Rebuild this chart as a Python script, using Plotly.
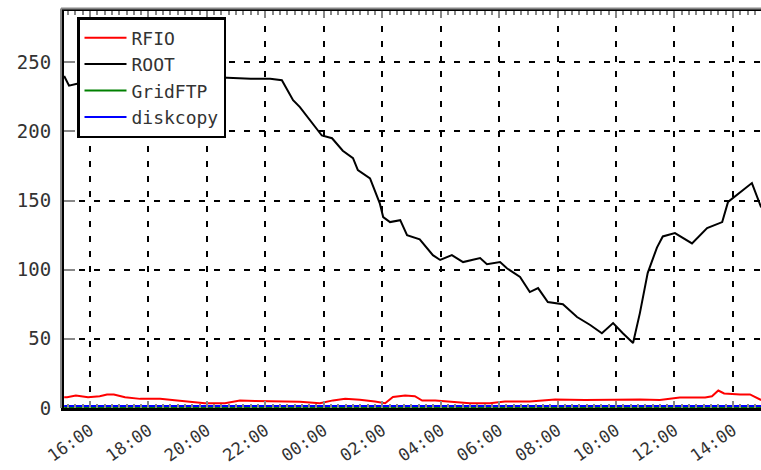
import plotly.graph_objects as go

# ---- data ----
root_time = ["2010-03-01 15:07", "2010-03-01 15:17", "2010-03-01 15:40", "2010-03-01 16:30",
             "2010-03-01 17:30", "2010-03-01 18:30", "2010-03-01 19:30", "2010-03-01 20:30",
             "2010-03-01 21:30", "2010-03-01 22:10", "2010-03-01 22:34", "2010-03-01 22:57",
             "2010-03-01 23:11", "2010-03-01 23:46", "2010-03-01 23:56", "2010-03-02 00:17",
             "2010-03-02 00:39", "2010-03-02 01:00", "2010-03-02 01:10", "2010-03-02 01:35",
             "2010-03-02 01:45", "2010-03-02 01:55", "2010-03-02 02:02", "2010-03-02 02:16",
             "2010-03-02 02:37", "2010-03-02 02:51", "2010-03-02 03:17", "2010-03-02 03:32",
             "2010-03-02 03:44", "2010-03-02 03:59", "2010-03-02 04:23", "2010-03-02 04:46",
             "2010-03-02 05:21", "2010-03-02 05:35", "2010-03-02 06:02", "2010-03-02 06:16",
             "2010-03-02 06:43", "2010-03-02 07:03", "2010-03-02 07:20", "2010-03-02 07:40",
             "2010-03-02 08:11", "2010-03-02 08:40", "2010-03-02 09:07", "2010-03-02 09:31",
             "2010-03-02 09:54", "2010-03-02 10:14", "2010-03-02 10:35", "2010-03-02 10:49",
             "2010-03-02 11:05", "2010-03-02 11:24", "2010-03-02 11:36", "2010-03-02 12:01",
             "2010-03-02 12:36", "2010-03-02 13:07", "2010-03-02 13:38", "2010-03-02 13:50",
             "2010-03-02 14:00", "2010-03-02 14:39", "2010-03-02 14:58"]
root_vals = [240, 233, 235, 237,
             236, 238, 237, 239,
             238, 238, 237, 222.5,
             217.5, 201, 197, 195,
             186, 180.6, 172, 166,
             157.5, 148, 138, 134.4,
             135.8, 125, 122, 116,
             110.5, 107, 110.5, 105.5,
             108.4, 104, 105.5, 101,
             94.7, 83.8, 86.7, 76.6,
             75, 65.8, 60, 54,
             61.4, 54, 47, 68.6,
             97.5, 116, 124, 126.4,
             119, 130, 134.4, 149,
             151.7, 162.6, 145]

small_time = ["2010-03-01 15:07", "2010-03-01 15:13", "2010-03-01 15:31", "2010-03-01 15:56",
              "2010-03-01 16:20", "2010-03-01 16:35", "2010-03-01 16:49", "2010-03-01 17:12",
              "2010-03-01 17:43", "2010-03-01 18:24", "2010-03-01 18:59", "2010-03-01 19:25",
              "2010-03-01 19:56", "2010-03-01 20:37", "2010-03-01 21:08", "2010-03-01 21:39",
              "2010-03-01 22:20", "2010-03-01 23:11", "2010-03-01 23:52", "2010-03-02 00:19",
              "2010-03-02 00:44", "2010-03-02 01:14", "2010-03-02 01:45", "2010-03-02 02:06",
              "2010-03-02 02:22", "2010-03-02 02:47", "2010-03-02 03:07", "2010-03-02 03:22",
              "2010-03-02 03:49", "2010-03-02 04:19", "2010-03-02 05:00", "2010-03-02 05:41",
              "2010-03-02 06:12", "2010-03-02 07:03", "2010-03-02 07:55", "2010-03-02 08:56",
              "2010-03-02 09:48", "2010-03-02 10:49", "2010-03-02 11:30", "2010-03-02 12:11",
              "2010-03-02 13:03", "2010-03-02 13:17", "2010-03-02 13:30", "2010-03-02 13:42",
              "2010-03-02 14:15", "2010-03-02 14:35", "2010-03-02 14:58"]
rfio_vals = [7.8, 7.8, 9.0, 7.8,
             8.5, 9.8, 9.8, 7.8,
             6.6, 6.6, 5.5, 4.7,
             3.5, 3.5, 5.4, 5.0,
             4.7, 4.5, 3.5, 5.5,
             6.6, 6.0, 4.7, 3.5,
             8.0, 9.0, 8.5, 5.4,
             5.4, 4.7, 3.5, 3.5,
             4.7, 4.7, 6.1, 5.8,
             6.1, 6.1, 5.8, 7.6,
             7.6, 8.5, 12.6, 10.5,
             9.8, 9.8, 5.8]
gridftp_vals = [0.5] * len(small_time)
diskcopy_vals = [1.5] * len(small_time)

x_start = "2010-03-01 15:06:40"
x_end = "2010-03-02 14:57:40"
y_max = 287
y_tick_step = 50

mono = "DejaVu Sans Mono"
txt = "#333333"

fig = go.Figure()
fig.add_trace(go.Scatter(x=small_time, y=rfio_vals, mode="lines", name="RFIO",
                         line=dict(color="#ff0000", width=2)))
fig.add_trace(go.Scatter(x=root_time, y=root_vals, mode="lines", name="ROOT",
                         line=dict(color="#000000", width=2)))
fig.add_trace(go.Scatter(x=small_time, y=gridftp_vals, mode="lines", name="GridFTP",
                         line=dict(color="#008000", width=2)))
fig.add_trace(go.Scatter(x=small_time, y=diskcopy_vals, mode="lines", name="diskcopy",
                         line=dict(color="#0000ff", width=2)))

W, H = 761, 470
ml, mr, mt, mb = 64, 0, 11, 62
pw, ph = W - ml - mr, H - mt - mb

fig.update_layout(
    width=W, height=H,
    margin=dict(l=ml, r=mr, t=mt, b=mb),
    paper_bgcolor="white", plot_bgcolor="white",
    showlegend=True,
    legend=dict(x=(77 - ml) / pw, y=1 - (17 - mt) / ph, xanchor="left", yanchor="top",
                bgcolor="white", bordercolor="black", borderwidth=2.5,
                font=dict(family=mono, size=18, color=txt),
                itemwidth=42, tracegroupgap=0),
    xaxis=dict(type="date", range=[x_start, x_end],
               tick0="2010-03-01 16:00", dtick=7200000, tickformat="%H:%M",
               tickangle=-35, ticks="inside", ticklen=7, tickwidth=2, tickcolor="#888888",
               ticklabelstandoff=3,
               showline=True, linecolor="black", linewidth=3, mirror="allticks",
               showgrid=True, gridcolor="black", gridwidth=2, griddash="6px,9px",
               minor=dict(dtick=900000, ticks="inside", ticklen=4, tickwidth=2,
                          tickcolor="#888888", showgrid=False),
               tickfont=dict(family=mono, size=17, color=txt), zeroline=False,
               automargin=False),
    yaxis=dict(range=[0, y_max], tick0=0, dtick=y_tick_step,
               ticks="inside", ticklen=11, tickwidth=2, tickcolor="#888888",
               ticklabelstandoff=6,
               showline=True, linecolor="black", linewidth=3, mirror=False,
               showgrid=True, gridcolor="black", gridwidth=2, griddash="6px,9px",
               tickfont=dict(family=mono, size=19, color=txt), zeroline=False,
               automargin=False),
    shapes=[
        dict(type="line", xref="paper", yref="paper",
             x0=-3.0 / pw, x1=-3.0 / pw, y0=0, y1=1 + 2.5 / ph,
             line=dict(color="#888888", width=2)),
        dict(type="line", xref="paper", yref="paper",
             x0=-3.0 / pw, x1=1, y0=1 + 2.5 / ph, y1=1 + 2.5 / ph,
             line=dict(color="#888888", width=2)),
    ],
)

fig.write_html("out.html", config={"displayModeBar": False},
               post_script="document.body.style.margin='0px';")
